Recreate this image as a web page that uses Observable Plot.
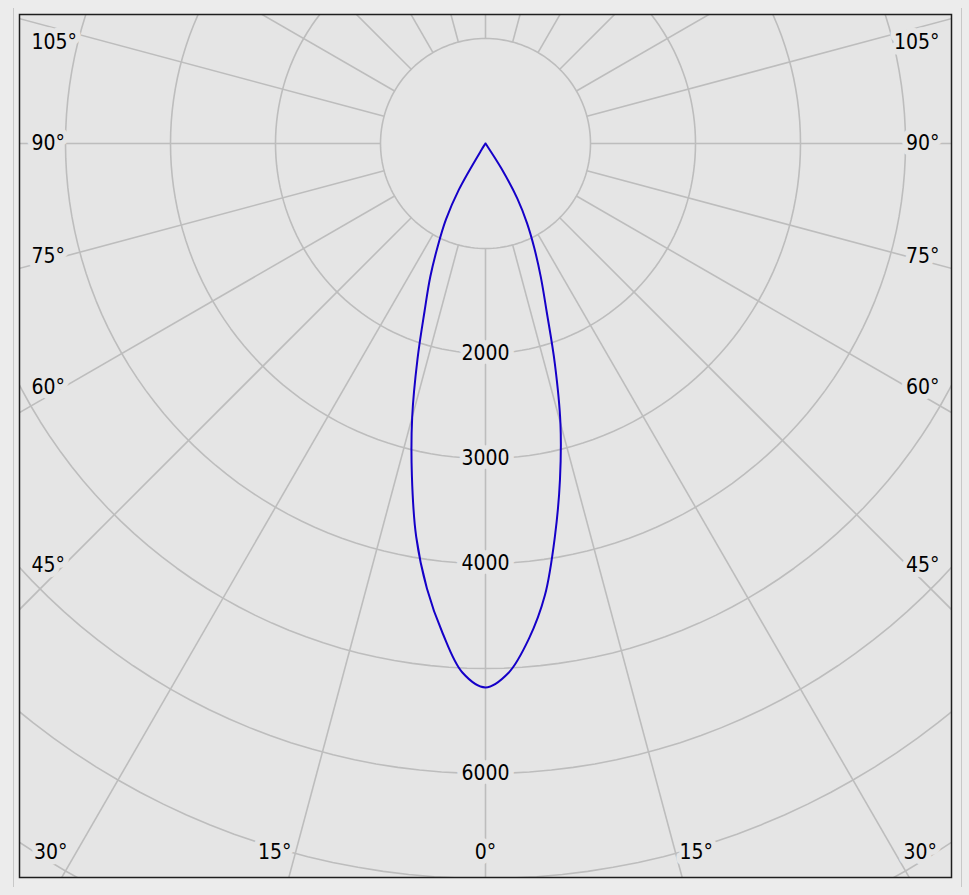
<!DOCTYPE html>
<html>
<head>
<meta charset="utf-8">
<script src="https://cdn.jsdelivr.net/npm/d3@7"></script>
<script src="https://cdn.jsdelivr.net/npm/@observablehq/plot@0.6"></script>
<style>
  html, body { margin: 0; padding: 0; background: #ececec; }
  #panel { position: absolute; left: 13px; top: 8px; width: 949px; height: 879px;
           border-left: 1px solid #c8c8c8; border-right: 1px solid #c8c8c8; box-sizing: border-box; }
  #chart { position: absolute; left: 0; top: 0; }
</style>
</head>
<body>
<div id="panel"></div>
<div id="chart"></div>
<script>
// ---- Data (luminous intensity, cd) ----
const gammaAngles = [0, 2.5, 5, 7.5, 10, 12.5, 15, 17.5, 20, 22.5, 25, 27.5, 30, 32.5, 35, 37.5, 40, 45, 50, 55, 60, 65, 70, 75, 80, 85, 90];
const intensityLeft  = [5180, 5043, 4682, 4274, 3802, 3239, 2698, 2155, 1695, 1374, 1071, 815, 507, 70, 15, 6, 4, 3, 2, 1, 1, 0, 0, 0, 0, 0, 0];
const intensityRight = [5180, 5045, 4736, 4338, 3804, 3277, 2757, 2195, 1703, 1377, 1101, 858, 607, 280, 20, 6, 4, 3, 2, 1, 1, 0, 0, 0, 0, 0, 0];
const ringValues = [1000, 2000, 3000, 4000, 5000, 6000, 7000, 8000];
const ringLabels = [2000, 3000, 4000, 6000];
const spokeAngles = d3.range(0, 360, 15);
const angleLabels = [0, 15, 30, 45, 60, 75, 90, 105];

// ---- Layout ----
const W = 969, H = 895, mL = 19, mR = 18, mT = 14, mB = 18;
const k = 0.105;                       // px per cd
const halfW = (W - mL - mR) / 2 / k;   // data half-width
const yTop = 129 / k;                  // centre sits 129px below frame top
const yBottom = yTop - (H - mT - mB) / k;
const rad = d => d * Math.PI / 180;
const BG = "#e5e5e5", GRID = "#bdbdbd", CURVE = "#1500c8";
const FONT = "'DejaVu Sans Condensed', 'Liberation Sans', sans-serif";

// rings
const ringPts = [];
for (const R of ringValues) for (let a = 0; a <= 360; a += 2)
  ringPts.push({ring: R, x: R * Math.sin(rad(a)), y: R * Math.cos(rad(a))});

// photometric curve: left half (90 -> 0) then right half (0 -> 90)
const curve = [];
for (let i = gammaAngles.length - 1; i >= 0; i--) {
  const g = rad(gammaAngles[i]), I = intensityLeft[i];
  curve.push({x: -I * Math.sin(g), y: -I * Math.cos(g)});
}
for (let i = 1; i < gammaAngles.length; i++) {
  const g = rad(gammaAngles[i]), I = intensityRight[i];
  curve.push({x: I * Math.sin(g), y: -I * Math.cos(g)});
}

// angle labels: ray crossing with an inset rectangle, then clamped
const insetX = halfW - 44 / k;
const sideX = halfW - 12 / k;
const crossTop = yTop - 10 / k, crossBot = yBottom + 10 / k;
const clampTop = yTop - 28 / k, clampBot = yBottom + 25 / k;
const labelPts = [];
for (const side of [-1, 1]) for (const a of angleLabels) {
  if (a === 0 && side === 1) continue;
  const s = Math.sin(rad(a)), c = Math.cos(rad(a));
  const tx = s > 1e-9 ? insetX / s : Infinity;
  const ty = c > 1e-9 ? -crossBot / c : (c < -1e-9 ? crossTop / -c : Infinity);
  const t = Math.min(tx, ty);
  let x = side * t * s, y = -t * c;
  y = Math.max(clampBot, Math.min(clampTop, y));
  let anchor;
  if (a === 0) anchor = "middle";
  else if (tx < ty) { x = side * sideX; anchor = side < 0 ? "start" : "end"; }
  else anchor = side < 0 ? "end" : "start";
  labelPts.push({x, y, text: a + "°", anchor});
}

const textOpts = {fontSize: 21, fontFamily: FONT, fill: "#000", stroke: BG, strokeWidth: 11, strokeLinejoin: "round"};

const plot = Plot.plot({
  width: W, height: H,
  marginLeft: mL, marginRight: mR, marginTop: mT, marginBottom: mB,
  style: {background: "transparent", overflow: "visible"},
  x: {domain: [-halfW, halfW], axis: null},
  y: {domain: [yBottom, yTop], axis: null},
  marks: [
    Plot.frame({fill: BG, stroke: "none"}),
    Plot.line(ringPts, {x: "x", y: "y", z: "ring", stroke: GRID, strokeWidth: 1.6, clip: true}),
    Plot.link(spokeAngles, {
      x1: a => 1000 * Math.sin(rad(a)), y1: a => -1000 * Math.cos(rad(a)),
      x2: a => 20000 * Math.sin(rad(a)), y2: a => -20000 * Math.cos(rad(a)),
      stroke: GRID, strokeWidth: 1.6, clip: true
    }),
    Plot.line(curve, {x: "x", y: "y", stroke: CURVE, strokeWidth: 2, strokeLinejoin: "round", curve: "catmull-rom"}),
    Plot.text(ringLabels, {x: () => 0, y: d => -d, text: d => String(d), textAnchor: "middle", ...textOpts}),
    ...["start", "middle", "end"].map(anchor =>
      Plot.text(labelPts.filter(d => d.anchor === anchor), {x: "x", y: "y", text: "text", textAnchor: anchor, ...textOpts})),
    Plot.frame({stroke: "#1e1e1e", strokeWidth: 1.5})
  ]
});
document.getElementById("chart").appendChild(plot);
</script>
</body>
</html>
